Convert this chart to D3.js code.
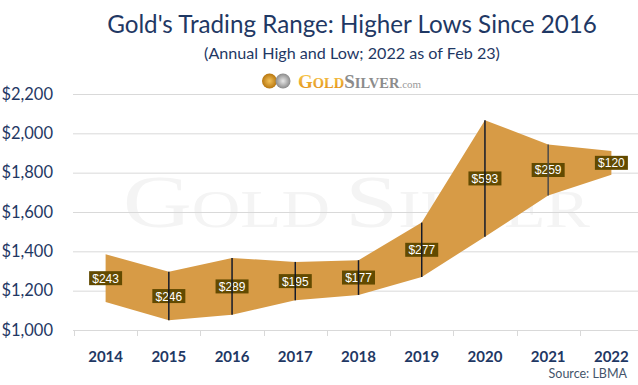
<!DOCTYPE html>
<html>
<head>
<meta charset="utf-8">
<script src="https://cdn.jsdelivr.net/npm/d3@7"></script>
<style>
  body { margin: 0; background: #fff; }
  svg { display: block; }
</style>
</head>
<body>
<script>
var years = ['2014', '2015', '2016', '2017', '2018', '2019', '2020', '2021', '2022'];
var highs = [1385, 1295.75, 1366.25, 1346.25, 1354.95, 1546.1, 2067.15, 1943.2, 1910];
var lows = [1142, 1049.4, 1077, 1151, 1178.4, 1269.5, 1474.25, 1683.95, 1790];
var yTicks = [1000, 1200, 1400, 1600, 1800, 2000, 2200];

var W = 638, H = 385;
var navy = '#1f3864';
var font = 'Lato, "Open Sans", sans-serif';

var svg = d3.select('body').append('svg')
    .attr('width', W)
    .attr('height', H);

var x = d3.scaleBand().domain(years).range([74, 643]);
var y = d3.scaleLinear().domain([1000, 2200]).range([330, 94]);
var cx = function(d){ return x(d) + x.bandwidth() / 2; };

// shrink/grow font so text matches a measured width
function fit(sel, width) {
  var fs = parseFloat(sel.attr('font-size'));
  var w = sel.node().getComputedTextLength();
  sel.attr('font-size', fs * width / w);
}

// watermark
var wm = svg.append('text')
    .attr('x', 123).attr('y', 227)
    .attr('font-family', '"Liberation Serif", "DejaVu Serif", serif')
    .attr('fill', '#f4f4f4')
    .attr('textLength', 467)
    .attr('lengthAdjust', 'spacingAndGlyphs');
wm.append('tspan').attr('font-size', 75).text('G');
wm.append('tspan').attr('font-size', 53).text('OLD');
wm.append('tspan').attr('font-size', 75).attr('dx', 12).text('S');
wm.append('tspan').attr('font-size', 53).text('ILVER');

// gridlines
svg.append('g').selectAll('line')
    .data(yTicks.slice(1))
    .enter().append('line')
    .attr('x1', 73).attr('x2', W)
    .attr('y1', function(d){ return y(d) + 0.5; })
    .attr('y2', function(d){ return y(d) + 0.5; })
    .attr('stroke', '#d9d9d9')
    .attr('stroke-width', 1);

// x axis line + ticks
svg.append('line')
    .attr('x1', 73).attr('x2', W)
    .attr('y1', 330.5).attr('y2', 330.5)
    .attr('stroke', '#d9d9d9');
svg.append('g').selectAll('line')
    .data(years)
    .enter().append('line')
    .attr('x1', function(d){ return Math.round(x(d)) + 0.5; })
    .attr('x2', function(d){ return Math.round(x(d)) + 0.5; })
    .attr('y1', 330).attr('y2', 336)
    .attr('stroke', '#d9d9d9');

// range band
var area = d3.area()
    .x(function(d, i){ return cx(years[i]); })
    .y0(function(d, i){ return y(lows[i]); })
    .y1(function(d, i){ return y(highs[i]); });

svg.append('path')
    .datum(years)
    .attr('d', area)
    .attr('fill', '#d79b46');

// range labels
var fmt = d3.format('$,.0f');
var lab = svg.append('g').selectAll('g')
    .data(years)
    .enter().append('g')
    .attr('transform', function(d, i){
      return 'translate(' + cx(d) + ',' + y((highs[i] + lows[i]) / 2) + ')';
    });
lab.append('rect')
    .attr('x', -16.5).attr('y', -7)
    .attr('width', 33).attr('height', 14)
    .attr('fill', '#624a00');
lab.append('text')
    .attr('y', 4.5)
    .attr('text-anchor', 'middle')
    .attr('font-family', '"Liberation Sans", Arial, sans-serif')
    .attr('font-size', 12)
    .attr('fill', '#fff')
    .text(function(d, i){ return fmt(highs[i] - lows[i]); });

// high-low lines, drawn over the labels like the original
svg.append('g').selectAll('line')
    .data(years.slice(1, 8))
    .enter().append('line')
    .attr('x1', function(d){ return cx(d); })
    .attr('x2', function(d){ return cx(d); })
    .attr('y1', function(d){ return y(highs[years.indexOf(d)]); })
    .attr('y2', function(d){ return y(lows[years.indexOf(d)]); })
    .attr('stroke', function(d){ return d === '2021' ? '#4a4a4a' : '#141a2a'; })
    .attr('stroke-width', 1.5);

// y axis labels
svg.append('g').selectAll('text')
    .data(yTicks)
    .enter().append('text')
    .attr('x', 53)
    .attr('y', function(d){ return y(d) + 5.5; })
    .attr('text-anchor', 'end')
    .attr('font-family', font)
    .attr('font-size', 16.5)
    .attr('fill', navy)
    .text(function(d){ return '$' + d3.format(',')(d); });

// x axis labels
svg.append('g').selectAll('text')
    .data(years)
    .enter().append('text')
    .attr('x', function(d){ return cx(d); })
    .attr('y', 362)
    .attr('text-anchor', 'middle')
    .attr('font-family', font)
    .attr('font-weight', 'bold')
    .attr('font-size', 15)
    .attr('fill', navy)
    .text(function(d){ return d; });

// titles
var t1 = svg.append('text')
    .attr('x', 352).attr('y', 33)
    .attr('text-anchor', 'middle')
    .attr('font-family', font)
    .attr('font-size', 26)
    .attr('fill', navy)
    .text("Gold's Trading Range: Higher Lows Since 2016");
fit(t1, 490);

var t2 = svg.append('text')
    .attr('x', 352).attr('y', 58.5)
    .attr('text-anchor', 'middle')
    .attr('font-family', font)
    .attr('font-size', 16)
    .attr('fill', navy)
    .text('(Annual High and Low; 2022 as of Feb 23)');
fit(t2, 296);

// logo
var defs = svg.append('defs');
var gGold = defs.append('linearGradient').attr('id', 'gold')
    .attr('x1', 0).attr('y1', 0).attr('x2', 0).attr('y2', 1);
gGold.append('stop').attr('offset', '0%').attr('stop-color', '#fbd35a');
gGold.append('stop').attr('offset', '100%').attr('stop-color', '#e08a12');
var rCoin = defs.append('radialGradient').attr('id', 'coinG');
rCoin.append('stop').attr('offset', '0%').attr('stop-color', '#f4c25a');
rCoin.append('stop').attr('offset', '100%').attr('stop-color', '#b8770f');
var rSil = defs.append('radialGradient').attr('id', 'coinS');
rSil.append('stop').attr('offset', '0%').attr('stop-color', '#e8e8e8');
rSil.append('stop').attr('offset', '100%').attr('stop-color', '#8a8a8a');

svg.append('circle').attr('cx', 269.5).attr('cy', 81).attr('r', 7.5).attr('fill', 'url(#coinG)');
svg.append('circle').attr('cx', 283).attr('cy', 81).attr('r', 7.5).attr('fill', 'url(#coinS)');

var logo = svg.append('text')
    .attr('x', 298).attr('y', 87.5)
    .attr('font-family', '"Liberation Serif", "DejaVu Serif", serif')
    .attr('font-weight', 'bold');
logo.append('tspan').attr('fill', 'url(#gold)').attr('font-size', 19).text('G');
logo.append('tspan').attr('fill', 'url(#gold)').attr('font-size', 14.5).text('OLD');
logo.append('tspan').attr('fill', '#8c8c8c').attr('font-size', 19).text('S');
logo.append('tspan').attr('fill', '#8c8c8c').attr('font-size', 14.5).text('ILVER');
logo.append('tspan').attr('fill', '#9a9a9a').attr('font-weight', 'normal').attr('font-size', 11).text('.com');

// source
svg.append('text')
    .attr('x', 627).attr('y', 378)
    .attr('text-anchor', 'end')
    .attr('font-family', font)
    .attr('font-size', 12.5)
    .attr('fill', '#44546a')
    .text('Source: LBMA');
</script>
</body>
</html>
